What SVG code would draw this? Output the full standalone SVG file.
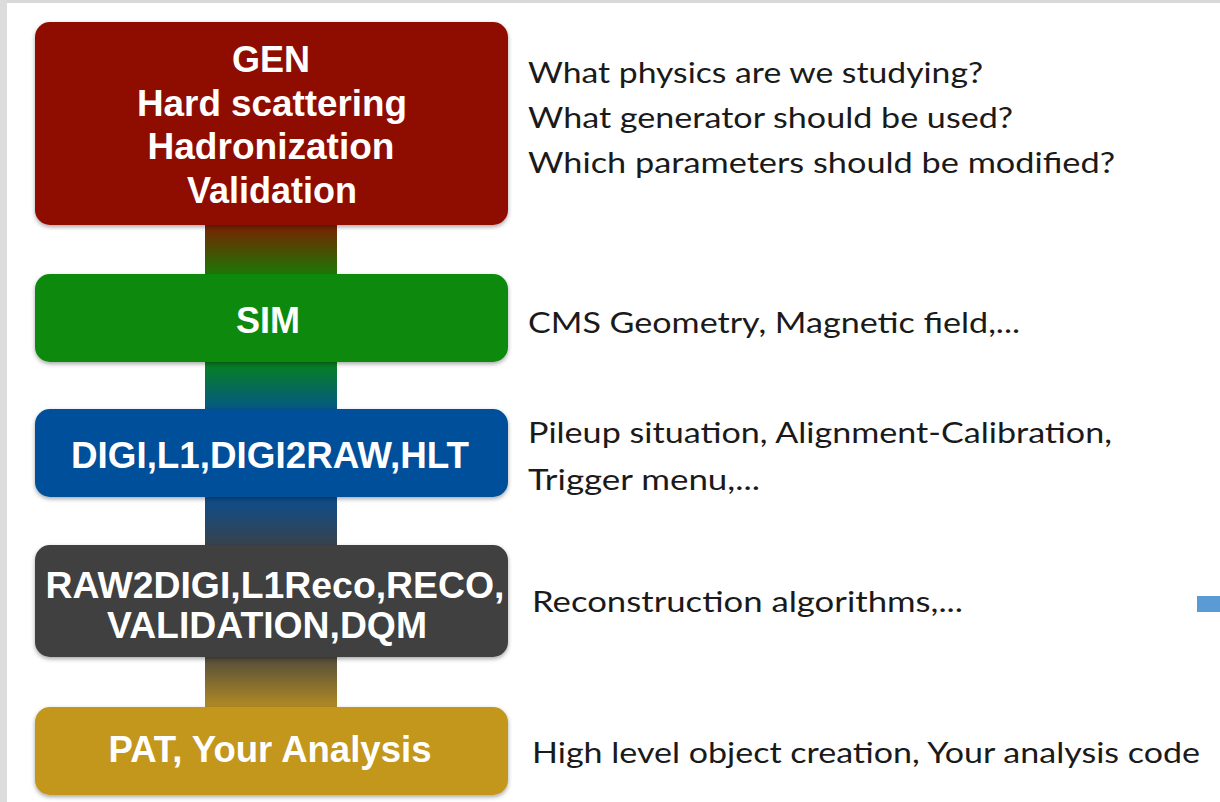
<svg xmlns="http://www.w3.org/2000/svg" width="1220" height="802" viewBox="0 0 1220 802">
  <style>
    .box { filter: url(#shadow); }
    .lbl { font-family: "Liberation Sans", Arial, Helvetica, sans-serif; font-weight: bold; fill: #ffffff; text-anchor: middle; }
    .note { font-family: Lato, "Noto Sans", "Liberation Sans", sans-serif; font-size: 29px; fill: #1a1a1a; }
  </style>
  <defs>
    <filter id="shadow" x="-5%" y="-10%" width="110%" height="130%">
      <feDropShadow dx="0" dy="2" stdDeviation="2" flood-color="#000000" flood-opacity="0.35"/>
    </filter>
    <linearGradient id="g1" x1="0" y1="0" x2="0" y2="1">
      <stop offset="0" stop-color="#8e1000"/>
      <stop offset="1" stop-color="#088a08"/>
    </linearGradient>
    <linearGradient id="g2" x1="0" y1="0" x2="0" y2="1">
      <stop offset="0" stop-color="#088a08"/>
      <stop offset="1" stop-color="#03509a"/>
    </linearGradient>
    <linearGradient id="g3" x1="0" y1="0" x2="0" y2="1">
      <stop offset="0" stop-color="#03509a"/>
      <stop offset="1" stop-color="#404040"/>
    </linearGradient>
    <linearGradient id="g4" x1="0" y1="0" x2="0" y2="1">
      <stop offset="0" stop-color="#404040"/>
      <stop offset="1" stop-color="#c3961e"/>
    </linearGradient>
  </defs>

  <rect x="0" y="0" width="1220" height="802" fill="#ffffff"/>
  <rect x="0" y="0" width="1220" height="3" fill="#d9d9d9"/>
  <rect x="0" y="0" width="7" height="802" fill="#dcdcdc"/>

  <g id="connectors">
    <rect x="205" y="215" width="132" height="70" fill="url(#g1)"/>
    <rect x="205" y="352" width="132" height="67" fill="url(#g2)"/>
    <rect x="205" y="487" width="132" height="68" fill="url(#g3)"/>
    <rect x="205" y="647" width="132" height="70" fill="url(#g4)"/>
  </g>

  <g id="gen">
    <rect class="box" x="35" y="22" width="473" height="203" rx="15" fill="#8e1000"/>
    <text class="lbl" font-size="36" x="271" y="72" textLength="78" lengthAdjust="spacingAndGlyphs">GEN</text>
    <text class="lbl" font-size="36" x="272" y="116" textLength="270" lengthAdjust="spacingAndGlyphs">Hard scattering</text>
    <text class="lbl" font-size="36" x="271" y="159" textLength="247" lengthAdjust="spacingAndGlyphs">Hadronization</text>
    <text class="lbl" font-size="36" x="272" y="203" textLength="170" lengthAdjust="spacingAndGlyphs">Validation</text>
  </g>

  <g id="sim">
    <rect class="box" x="35" y="274" width="473" height="88" rx="15" fill="#088a08"/>
    <text class="lbl" font-size="36" x="268" y="333" textLength="64" lengthAdjust="spacingAndGlyphs">SIM</text>
  </g>

  <g id="digi">
    <rect class="box" x="35" y="409" width="473" height="88" rx="15" fill="#03509a"/>
    <text class="lbl" font-size="36" x="270" y="468" textLength="398" lengthAdjust="spacingAndGlyphs">DIGI,L1,DIGI2RAW,HLT</text>
  </g>

  <g id="reco">
    <rect class="box" x="35" y="545" width="473" height="112" rx="15" fill="#404040"/>
    <text class="lbl" font-size="36" x="275" y="598" textLength="459" lengthAdjust="spacingAndGlyphs">RAW2DIGI,L1Reco,RECO,</text>
    <text class="lbl" font-size="36" x="267" y="638" textLength="320" lengthAdjust="spacingAndGlyphs">VALIDATION,DQM</text>
  </g>

  <g id="pat">
    <rect class="box" x="35" y="707" width="473" height="88" rx="15" fill="#c3961e"/>
    <text class="lbl" font-size="36" x="270" y="762" textLength="323" lengthAdjust="spacingAndGlyphs">PAT, Your Analysis</text>
  </g>

  <g id="notes">
    <text class="note" x="528" y="83" textLength="455" lengthAdjust="spacingAndGlyphs">What physics are we studying?</text>
    <text class="note" x="528" y="128" textLength="485" lengthAdjust="spacingAndGlyphs">What generator should be used?</text>
    <text class="note" x="528" y="173" textLength="587" lengthAdjust="spacingAndGlyphs">Which parameters should be modified?</text>
    <text class="note" x="528" y="333" textLength="492" lengthAdjust="spacingAndGlyphs">CMS Geometry, Magnetic field,...</text>
    <text class="note" x="528" y="443" textLength="584" lengthAdjust="spacingAndGlyphs">Pileup situation, Alignment-Calibration,</text>
    <text class="note" x="528" y="490" textLength="232" lengthAdjust="spacingAndGlyphs">Trigger menu,...</text>
    <text class="note" x="532" y="612" textLength="431" lengthAdjust="spacingAndGlyphs">Reconstruction algorithms,...</text>
    <text class="note" x="532" y="763" textLength="668" lengthAdjust="spacingAndGlyphs">High level object creation, Your analysis code</text>
  </g>

  <rect x="1197" y="596" width="23" height="16" fill="#5b9bd5"/>
</svg>
